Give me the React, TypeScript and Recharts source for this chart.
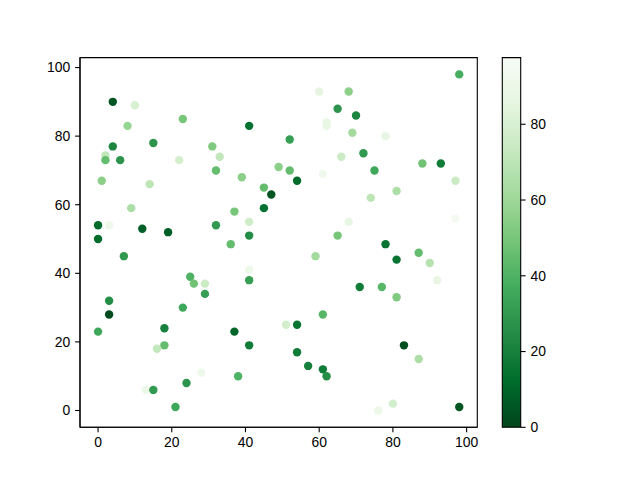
import { ScatterChart, Scatter, XAxis, YAxis, ReferenceArea, BarChart, Bar } from "recharts";

// scatter points: x, y and colour value c
const xs = [4, 10, 23, 8, 41, 4, 15, 31, 2, 2, 6, 22, 33, 32, 49, 1, 14, 39, 45, 47, 9, 37, 45, 41, 0, 3, 12, 19, 32, 41, 0, 36,
  98, 60, 68, 65, 70, 62, 62, 69, 78, 52, 72, 66, 52, 75, 88, 93, 61, 54, 97, 81, 74, 68, 97, 65, 78,
  7, 41, 25, 26, 29, 41, 29, 3, 3, 23, 0, 18, 37, 41, 18, 16, 28, 38, 24, 13, 15, 21,
  59, 81, 87, 90, 92, 71, 77, 81, 61, 51, 54, 54, 57, 61, 62, 83, 87, 80, 76, 98];
const ys = [90, 89, 85, 83, 83, 77, 78, 77, 74.4, 73, 73, 73, 74, 70, 71, 67, 66, 68, 65, 63, 59, 58, 59, 55, 54, 54, 53, 52, 54, 51, 50, 48.5,
  98, 93, 93, 88, 86, 84, 83, 81, 80, 79, 75, 74, 70, 70, 72, 72, 69, 67, 67, 64, 62, 55, 56, 51, 48.5,
  45, 41, 39, 37, 37, 38, 34, 32, 28, 30, 23, 24, 23, 19, 19, 18, 11, 10, 8, 6, 6, 1,
  45, 44, 46, 43, 38, 36, 36, 33, 28, 25, 25, 17, 13, 12, 10, 19, 15, 2, 0, 1];
const cs = [5, 80, 50, 58, 14, 22, 28, 52, 72, 45, 28, 78, 72, 45, 55, 55, 70, 55, 45, 5, 65, 50, 14, 76, 12, 92, 8, 8, 30, 25, 12, 45,
  38, 86, 55, 28, 22, 88, 88, 62, 87, 32, 30, 75, 45, 35, 48, 18, 92, 12, 75, 65, 70, 88, 95, 50, 15,
  30, 90, 40, 48, 75, 32, 32, 25, 2, 35, 35, 20, 10, 18, 45, 72, 92, 40, 28, 90, 30, 35,
  62, 15, 45, 68, 88, 18, 42, 52, 42, 78, 15, 18, 20, 18, 25, 3, 65, 78, 90, 5];

const axisTicks = [0, 20, 40, 60, 80, 100];
const colorTicks = [0, 20, 40, 60, 80];
const cMax = 97.6;

// Greens_r
const greens = ["#00441b", "#006d2c", "#238b45", "#41ab5d", "#74c476", "#a1d99b", "#c7e9c0", "#e5f5e0", "#f7fcf5"];

const points = xs.map((x, i) => ({ x, y: ys[i], c: cs[i] }));
const barData = [{ k: "c", v: cMax }];

function hex(s: string) {
  return [1, 3, 5].map((i) => parseInt(s.slice(i, i + 2), 16));
}

function greenAt(v: number) {
  const t = Math.max(0, Math.min(1, v / cMax)) * 8;
  const i = Math.min(7, Math.floor(t));
  const f = t - i;
  const a = hex(greens[i]);
  const b = hex(greens[i + 1]);
  const m = a.map((p, j) => Math.round(p + (b[j] - p) * f));
  return `rgb(${m[0]},${m[1]},${m[2]})`;
}

const font = { fontFamily: "Liberation Sans", fontSize: 13.9, fill: "#000" };
const line = { stroke: "#000", strokeWidth: 1.1 };

function Dot(props: any) {
  const { cx, cy, payload } = props;
  return <circle cx={cx} cy={cy} r={4.2} fill={greenAt(payload.c)} />;
}

export default function App() {
  return (
    <div style={{ position: "absolute", left: 0, top: 0, width: 640, height: 480, background: "#fff" }}>
      <div style={{ position: "absolute", left: 0, top: 0 }}>
        <ScatterChart width={640} height={480} margin={{ top: 57.6, right: 162.7, bottom: 22.7, left: 40 }}>
          <XAxis type="number" dataKey="x" domain={[-4.9, 102.9]} ticks={axisTicks} height={30}
            tick={font} axisLine={line} tickLine={line} tickSize={4.9} tickMargin={4.9} allowDataOverflow />
          <YAxis type="number" dataKey="y" domain={[-4.9, 102.9]} ticks={axisTicks} width={40}
            tick={font} axisLine={line} tickLine={line} tickSize={4.9} tickMargin={4.9} allowDataOverflow />
          <Scatter data={points} shape={Dot} isAnimationActive={false} />
          <ReferenceArea x1={-4.9} x2={102.9} y1={-4.9} y2={102.9} fill="none" fillOpacity={0} stroke="#000" strokeWidth={1.1} />
        </ScatterChart>
      </div>
      <div style={{ position: "absolute", left: 0, top: 0 }}>
        <BarChart width={640} height={480} data={barData} margin={{ top: 57.6, right: 79.3, bottom: 52.7, left: 502.3 }}>
          <defs>
            <linearGradient id="cbarGrad" x1="0" y1="1" x2="0" y2="0">
              {greens.map((g, i) => (
                <stop key={i} offset={i / 8} stopColor={g} />
              ))}
            </linearGradient>
          </defs>
          <XAxis dataKey="k" hide />
          <YAxis orientation="right" type="number" domain={[0, cMax]} ticks={colorTicks} width={40}
            tick={font} axisLine={false} tickLine={line} tickSize={4.9} tickMargin={4.9} />
          <Bar dataKey="v" barSize={18.4} fill="url(#cbarGrad)" stroke="#000" strokeWidth={1.1} isAnimationActive={false} />
        </BarChart>
      </div>
    </div>
  );
}
